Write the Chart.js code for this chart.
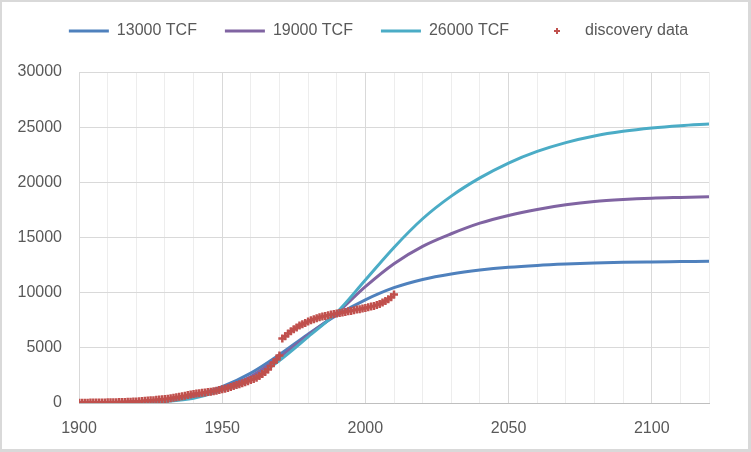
<!DOCTYPE html>
<html>
<head>
<meta charset="utf-8">
<script src="https://cdn.jsdelivr.net/npm/chart.js@4"></script>
<style>
  html, body { margin: 0; padding: 0; background: #fff; }
  #wrap { position: relative; width: 751px; height: 452px; }
  #frame { position: absolute; left: 0; top: 0; width: 751px; height: 452px; box-sizing: border-box;
           border-style: solid; border-color: #D9D9D9; border-width: 2px 3px 3px 2px; pointer-events: none; }
</style>
</head>
<body>
<div id="wrap">
  <canvas id="c" width="751" height="452"></canvas>
  <div id="frame"></div>
</div>
<script>
// ---- data ----
const seriesNames = ['13000 TCF', '19000 TCF', '26000 TCF', 'discovery data'];
const curveYears = [1900,1910,1920,1930,1940,1950,1960,1970,1980,1990,2000,2010,2020,2030,2040,2050,2060,2070,2080,2090,2100,2110,2120];
const curve13000 = [15,40,110,280,680,1480,2710,4380,6240,7950,9350,10450,11200,11700,12050,12300,12470,12590,12680,12750,12790,12820,12850];
const curve19000 = [5,20,70,200,530,1300,2400,4150,6150,8150,10550,12630,14200,15340,16300,17000,17540,17960,18260,18440,18560,18630,18690];
const curve26000 = [3,10,40,140,420,1150,2080,3850,5990,8200,11150,14100,16700,18750,20400,21750,22800,23600,24200,24620,24920,25130,25280];

const discoveryYears = [];
for (let y = 1900; y <= 2010; y++) discoveryYears.push(y);
const discoveryValues = [
  20,25,30,30,35,40,40,45,50,55,
  60,65,70,75,80,90,100,110,120,130,
  140,160,180,200,220,240,260,290,310,340,
  360,390,430,470,510,560,610,660,720,770,
  810,850,890,930,960,990,1030,1070,1110,1170,
  1240,1300,1360,1440,1530,1630,1700,1780,1880,1980,
  2080,2180,2290,2450,2620,2820,3040,3350,3680,3950,
  4300,5850,6060,6300,6510,6690,6840,7020,7140,7260,
  7380,7500,7590,7680,7770,7830,7890,7950,8020,8070,
  8110,8160,8200,8250,8310,8340,8400,8470,8500,8560,
  8620,8680,8740,8800,8890,8980,9100,9250,9400,9580,9830
];
const xMin = 1900, xMax = 2120, xStep = 10, xLabelStep = 50;
const yMin = 0, yMax = 30000, yStep = 5000;

// ---- styling ----
const colors = ['#4F81BD', '#8064A2', '#4BACC6', '#C0504D'];
const textColor = '#595959';
const fontFamily = '"Liberation Sans", Arial, sans-serif';

const toXY = (xs, ys) => xs.map((x, i) => ({ x: x, y: ys[i] }));

// small "+" image for the legend entry of the scatter series
const plusImg = document.createElement('canvas');
plusImg.width = 8; plusImg.height = 8;
(function () {
  const g = plusImg.getContext('2d');
  g.strokeStyle = colors[3]; g.lineWidth = 2;
  g.beginPath(); g.moveTo(4, 1); g.lineTo(4, 7); g.moveTo(1, 4); g.lineTo(7, 4); g.stroke();
})();

function curveDataset(i, values, order) {
  return {
    label: seriesNames[i],
    data: toXY(curveYears, values),
    borderColor: colors[i],
    backgroundColor: colors[i],
    borderWidth: 3,
    pointRadius: 0,
    pointHoverRadius: 0,
    cubicInterpolationMode: 'monotone',
    fill: false,
    order: order
  };
}

new Chart(document.getElementById('c'), {
  type: 'line',
  data: {
    datasets: [
      curveDataset(0, curve13000, 4),
      curveDataset(1, curve19000, 3),
      curveDataset(2, curve26000, 2),
      {
        label: seriesNames[3],
        data: toXY(discoveryYears, discoveryValues),
        showLine: false,
        borderColor: colors[3],
        backgroundColor: colors[3],
        pointStyle: 'cross',
        pointRadius: 4,
        pointBorderWidth: 2.5,
        pointHoverRadius: 4,
        order: 1
      }
    ]
  },
  options: {
    responsive: false,
    animation: false,
    devicePixelRatio: 1,
    layout: { padding: { top: -5, right: 0, left: 6, bottom: 0 } },
    plugins: {
      tooltip: { enabled: false },
      // invisible spacer between legend and plot area
      title: {
        display: true,
        text: ' ',
        weight: 500,
        font: { size: 1, lineHeight: 1 },
        padding: { top: 22, bottom: 0 }
      },
      legend: {
        position: 'top',
        align: 'center',
        labels: {
          usePointStyle: true,
          pointStyleWidth: 40,
          boxWidth: 40,
          padding: 28,
          color: textColor,
          font: { family: fontFamily, size: 16 },
          sort: (a, b) => a.datasetIndex - b.datasetIndex,
          generateLabels: function (chart) {
            const items = Chart.defaults.plugins.legend.labels.generateLabels(chart);
            items.forEach(it => {
              if (it.datasetIndex === 3) {
                it.pointStyle = plusImg;
              } else {
                it.pointStyle = 'line';
                it.lineWidth = 3;
                it.strokeStyle = colors[it.datasetIndex];
              }
              it.rotation = 0;
            });
            return items;
          }
        }
      }
    },
    scales: {
      x: {
        type: 'linear',
        min: xMin, max: xMax,
        afterFit: s => { s.height = 49; },
        border: { display: true, color: '#BFBFBF', width: 1 },
        grid: {
          drawTicks: false,
          color: ctx => (ctx.tick && ctx.tick.value % xLabelStep === 0) ? '#D9D9D9' : '#EDEDED',
          lineWidth: 1
        },
        ticks: {
          stepSize: xStep,
          autoSkip: false,
          maxRotation: 0,
          padding: 16,
          color: textColor,
          font: { family: fontFamily, size: 16 },
          callback: v => (v % xLabelStep === 0 ? String(v) : '')
        }
      },
      y: {
        position: 'left',
        min: yMin, max: yMax,
        afterFit: s => { s.width = 73; },
        border: { display: false },
        grid: { drawTicks: false, color: '#D9D9D9', lineWidth: 1 },
        ticks: {
          stepSize: yStep,
          padding: 17,
          color: textColor,
          font: { family: fontFamily, size: 16 },
          callback: v => String(v)
        }
      },
      // empty right-hand spacer axis reserving the blank margin right of the plot
      yRight: {
        position: 'right',
        min: yMin, max: yMax,
        afterFit: s => { s.width = 42; },
        border: { display: false },
        grid: { display: false },
        ticks: { display: false }
      }
    }
  }
});
</script>
</body>
</html>
